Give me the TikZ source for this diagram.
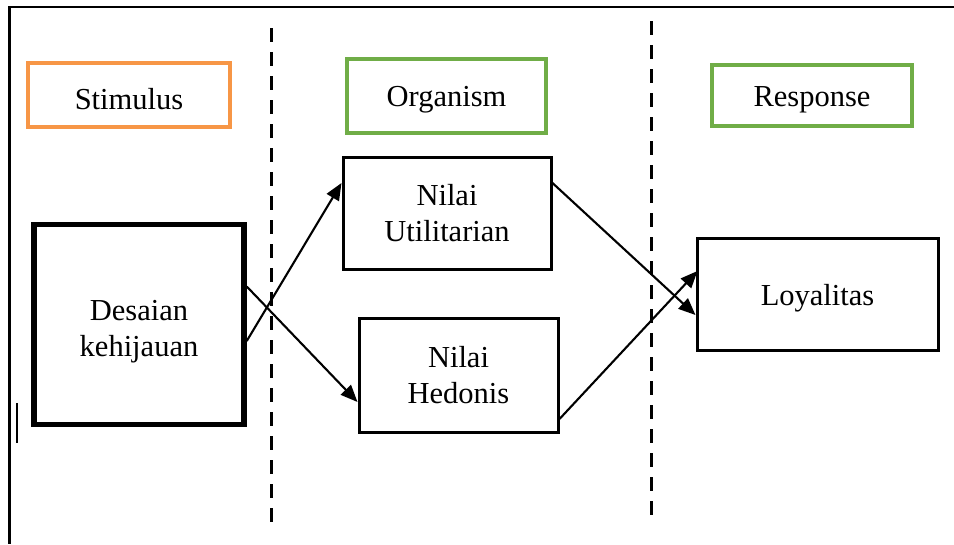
\documentclass[tikz,border=0pt]{standalone}
\usepackage{fontspec}
\setmainfont{Liberation Serif}
\usetikzlibrary{arrows.meta,calc}
\definecolor{orgorange}{HTML}{F79646}
\definecolor{orggreen}{HTML}{70AD47}
\begin{document}
\begin{tikzpicture}[x=1pt,y=-1pt,
  font=\fontsize{30.5}{36}\selectfont,
  box/.style={draw, line width=3pt, inner sep=0pt, align=center, rectangle},
  hdr/.style={box, line width=3.4pt},
  txt/.style={align=center, inner sep=0pt},
  link/.style={line width=2.1pt, -{Triangle[length=17pt,width=14pt]}},
  divider/.style={line width=3.2pt, dash pattern=on 14pt off 10pt}]
\useasboundingbox (0,0) rectangle (954,544);
% outer frame (top and left)
\draw[line width=2.3pt] (954,7) -- (9.5,7) -- (9.5,544);
\draw[line width=1.2pt] (17,403) -- (17,443);
% dividers
\draw[divider] (271.5,28) -- (271.5,522);
\draw[divider] (651.5,21) -- (651.5,515);
% headers
\node[hdr, draw=orgorange, line width=4.3pt, minimum width=202pt, minimum height=64pt,
  label={[txt, yshift=-4pt]center:Stimulus}] (stim) at (129,95) {};
\node[hdr, draw=orggreen, minimum width=199pt, minimum height=74pt,
  label={[txt, yshift=-4pt]center:Organism}] (org) at (446.5,96) {};
\node[hdr, draw=orggreen, minimum width=200pt, minimum height=61pt,
  label={[txt, yshift=-4pt]center:Response}] (resp) at (812,95.5) {};
% boxes
\node[box, line width=5.5pt, minimum width=210pt, minimum height=200pt,
  label={[txt, yshift=-7pt]center:{Desaian\\kehijauan}}] (des) at (139,324.5) {};
\node[box, minimum width=208pt, minimum height=112pt] (util) at (447,213) {Nilai\\Utilitarian};
\node[box, minimum width=199pt, minimum height=114pt] (hed) at (458.5,375) {Nilai\\Hedonis};
\node[box, minimum width=241pt, minimum height=112pt,
  label={[txt, yshift=-4pt]center:Loyalitas}] (loy) at (817.5,294) {};
% arrows
\draw[link] ($(des.east)+(0,16.5)$) -- ($(util.west)+(0,-30)$);
\draw[link] ($(des.east)+(0,-38)$) -- ($(hed.west)+(0,27)$);
\draw[link] ($(util.east)+(0,-30)$) -- ($(loy.west)+(0,21)$);
\draw[link] ($(hed.east)+(0,44)$) -- ($(loy.west)+(2,-23)$);
\end{tikzpicture}
\end{document}
